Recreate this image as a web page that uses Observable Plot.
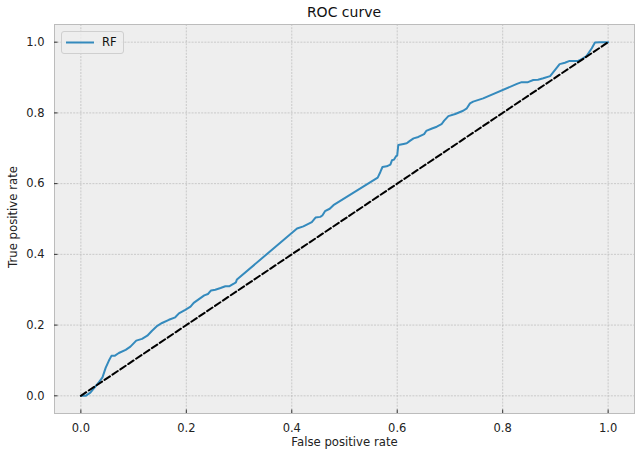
<!DOCTYPE html>
<html>
<head>
<meta charset="utf-8">
<script src="https://cdn.jsdelivr.net/npm/d3@7"></script>
<script src="https://cdn.jsdelivr.net/npm/@observablehq/plot@0.6"></script>
<style>
  body { margin: 0; background: #fff; font-family: "DejaVu Sans", sans-serif; }
  #wrap { position: relative; width: 641px; height: 459px; }
  #title { height: 23px; width: 580px; padding-left: 54px; text-align: center; font-size: 14px; line-height: 25px; color: #111; }
  #legend { position: absolute; left: 61px; top: 31px; width: 61px; height: 21px; border: 1px solid #cfcfcf; border-radius: 3px; background: rgba(238,238,238,0.8); }
  #legend svg { position: absolute; left: 3px; top: 9px; }
  #legend span { position: absolute; left: 40px; top: 3px; font-size: 11.5px; color: #111; line-height: 14px; }
</style>
</head>
<body>
<div id="wrap">
  <div id="title"></div>
  <div id="chart"></div>
  <div id="legend"><svg width="30" height="3"><line x1="1" x2="29" y1="1.5" y2="1.5" stroke="#348ABD" stroke-width="2"/></svg><span id="legtext"></span></div>
</div>
<script>
const title = "ROC curve";
const xLabel = "False positive rate";
const yLabel = "True positive rate";
const seriesName = "RF";
const xTicks = [0, 0.2, 0.4, 0.6, 0.8, 1.0];
const yTicks = [0, 0.2, 0.4, 0.6, 0.8, 1.0];

const fpr = [0,0.009,0.018,0.025,0.034,0.041,0.047,0.053,0.058,0.064,
  0.072,0.085,0.094,0.105,0.116,0.126,0.135,0.145,0.154,0.167,
  0.179,0.186,0.198,0.208,0.214,0.234,0.241,0.247,0.255,0.265,
  0.274,0.282,0.290,0.294,0.296,0.410,0.422,0.438,0.445,0.454,
  0.458,0.463,0.472,0.479,0.563,0.568,0.572,0.580,0.587,0.590,
  0.594,0.598,0.600,0.602,0.612,0.618,0.624,0.631,0.640,0.651,
  0.655,0.666,0.675,0.684,0.689,0.697,0.710,0.725,0.732,0.738,
  0.744,0.763,0.827,0.836,0.848,0.858,0.867,0.877,0.890,0.899,
  0.908,0.918,0.927,0.943,0.950,0.959,0.969,0.975,0.984,1.0];
const tpr = [0,0,0.009,0.022,0.038,0.052,0.079,0.099,0.113,0.113,
  0.121,0.130,0.139,0.156,0.161,0.170,0.184,0.198,0.206,0.215,
  0.222,0.233,0.243,0.252,0.263,0.284,0.288,0.298,0.300,0.305,
  0.310,0.310,0.317,0.321,0.329,0.473,0.479,0.491,0.504,0.506,
  0.510,0.522,0.529,0.539,0.617,0.633,0.647,0.649,0.654,0.666,
  0.668,0.678,0.680,0.709,0.712,0.714,0.721,0.728,0.732,0.740,
  0.749,0.756,0.761,0.768,0.778,0.791,0.797,0.806,0.813,0.827,
  0.832,0.841,0.882,0.887,0.887,0.893,0.894,0.898,0.904,0.921,
  0.938,0.942,0.947,0.947,0.952,0.961,0.983,0.999,1.0,1.0];
const diagX = [0, 1];
const diagY = [0, 1];

const roc = fpr.map((x, i) => ({x, y: tpr[i]}));
const diag = diagX.map((x, i) => ({x, y: diagY[i]}));

document.getElementById("title").textContent = title;
document.getElementById("legtext").textContent = seriesName;

const fmt = d3.format(".1f");
const gridStyle = {stroke: "#b2b2b2", strokeOpacity: 1, strokeWidth: 0.6, strokeDasharray: "2,1.2"};

const chart = Plot.plot({
  width: 641,
  height: 436,
  marginTop: 1,
  marginLeft: 54,
  marginRight: 7,
  marginBottom: 46,
  style: {fontFamily: "DejaVu Sans, sans-serif", fontSize: "11.5px", color: "#222", background: "transparent"},
  x: {domain: [-0.05, 1.05]},
  y: {domain: [-0.05, 1.05]},
  marks: [
    Plot.frame({fill: "#eeeeee", stroke: null}),
    Plot.gridX(xTicks, gridStyle),
    Plot.gridY(yTicks, gridStyle),
    Plot.frame({stroke: "#bcbcbc", strokeWidth: 1}),
    Plot.line(roc, {x: "x", y: "y", stroke: "#348ABD", strokeWidth: 2}),
    Plot.line(diag, {x: "x", y: "y", stroke: "#000", strokeWidth: 2, strokeDasharray: "6.5,3"}),
    Plot.axisX(xTicks, {tickSize: -3.5, tickFormat: () => "", label: null, stroke: "#333"}),
    Plot.axisY(yTicks, {tickSize: -3.5, tickFormat: () => "", label: null, stroke: "#333"}),
    Plot.axisX(xTicks, {tickSize: 0, tickPadding: 10, tickFormat: fmt, label: null, fontSize: 11.5, fill: "#222"}),
    Plot.axisY(yTicks, {tickSize: 0, tickPadding: 10, tickFormat: fmt, label: null, fontSize: 11.5, fill: "#222"}),
    Plot.text([xLabel], {text: d => d, frameAnchor: "bottom", textAnchor: "middle", lineAnchor: "middle", dy: 29, fontSize: 11.7, fill: "#222"}),
    Plot.text([yLabel], {text: d => d, frameAnchor: "left", textAnchor: "middle", lineAnchor: "middle", dx: -41.5, dy: -2, rotate: -90, fontSize: 11.7, fill: "#222"})
  ]
});
document.getElementById("chart").appendChild(chart);
</script>
</body>
</html>
